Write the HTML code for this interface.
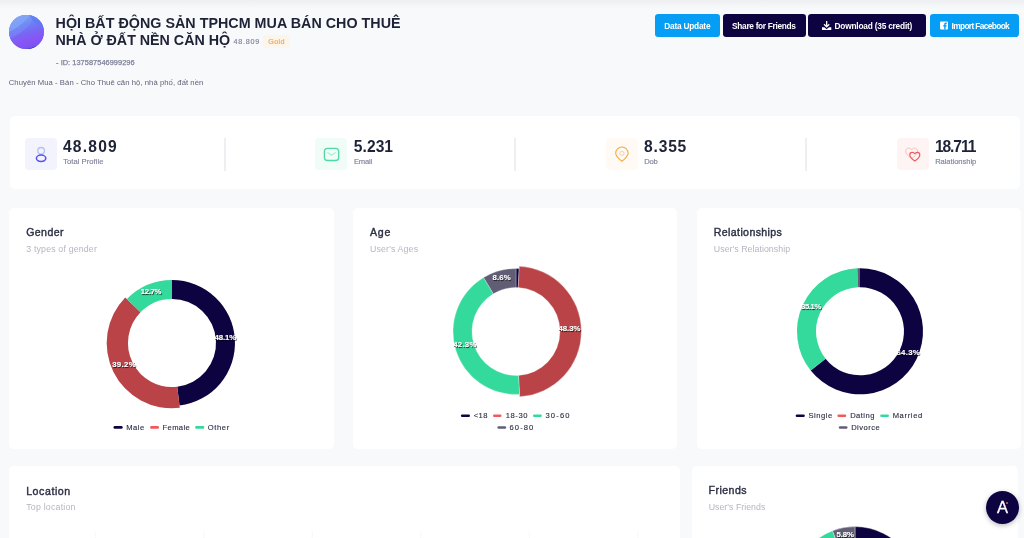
<!DOCTYPE html>
<html><head><meta charset="utf-8"><title>Group</title>
<style>
*{box-sizing:border-box;margin:0;padding:0}
html,body{width:1024px;height:538px;overflow:hidden;background:#f8f9fb;font-family:"Liberation Sans",sans-serif;color:#181c32}
.abs{position:absolute}
.card{position:absolute;background:#fff;border-radius:5px}
.t{position:absolute;white-space:pre}
.avatar{position:absolute;left:9.2px;top:14.5px;width:34.5px;height:34.6px;border-radius:50%;overflow:hidden;background:#6d7df4}
.gold{position:absolute;left:263.3px;top:35px;width:26.7px;height:13.4px;border-radius:3px;background:#fcf5ec}
.btn{position:absolute;top:14px;height:23.1px;border-radius:3.2px}
.lb{background:#069df5}
.nv{background:#0c0340}
.ibox{position:absolute;top:138.4px;width:32px;height:32px;border-radius:4px}
.sep{position:absolute;top:138.3px;width:1.8px;height:32.4px;background:#eeeff2}
.dl,.ds{font-size:7.8px;font-weight:700;fill:#fff;text-anchor:middle;font-family:"Liberation Sans",sans-serif}
.dl{stroke:#fff;stroke-width:.2px}
.ds{fill:#000;opacity:.5;stroke:#000;stroke-width:.5px}
svg.ov{position:absolute;left:0;top:0}
</style></head><body>
<div class="abs" style="left:0;top:0;width:1024px;height:9px;background:linear-gradient(rgba(20,20,40,.045),rgba(20,20,40,0))"></div>
<div class="avatar"><svg width="35" height="34" viewBox="0 0 35 34"><defs><linearGradient id="ag" x1="0.35" y1="0" x2="0.65" y2="1"><stop offset="0" stop-color="#78a2f6"/><stop offset=".3" stop-color="#6b80f5"/><stop offset=".55" stop-color="#7a64f4"/><stop offset=".8" stop-color="#8a52f6"/><stop offset="1" stop-color="#6f56f0"/></linearGradient></defs><rect width="35" height="34" fill="url(#ag)"/><path d="M0 17Q10 12 17 5L22 0H0Z" fill="#8fb4f7" opacity=".6"/><path d="M0 24Q14 18 22 8L24 0H0Z" fill="#7f9cf6" opacity=".35"/><path d="M20 0L24 6L35 14V0Z" fill="#5a78ee" opacity=".6"/><path d="M8 33Q17 36 27 31L27 35H8Z" fill="#24349a" opacity=".8"/></svg></div>
<div class="gold"></div>

<div class="btn lb" style="left:655px;width:65px"></div>
<div class="btn nv" style="left:722.9px;width:83.2px"></div>
<div class="btn nv" style="left:808.3px;width:118.2px"></div>
<div class="btn lb" style="left:930.2px;width:89.3px"></div>

<div class="card" style="left:10.2px;top:115.7px;width:1009.4px;height:73.3px"></div>
<div class="ibox" style="left:25.3px;background:#f3f3fe"></div>
<div class="sep" style="left:224px"></div>
<div class="ibox" style="left:315.4px;background:#f0fcf7"></div>
<div class="sep" style="left:514.3px"></div>
<div class="ibox" style="left:606.4px;background:#fffaf4"></div>
<div class="sep" style="left:805.1px"></div>
<div class="ibox" style="left:896.6px;background:#fff4f4"></div>

<div class="card" style="left:9.2px;top:208px;width:324.4px;height:240.5px"></div>
<div class="card" style="left:353px;top:208px;width:324.4px;height:240.5px"></div>
<div class="card" style="left:697px;top:208px;width:324px;height:240.5px"></div>
<div class="card" style="left:9.2px;top:466.2px;width:671.2px;height:90px"></div>
<div class="card" style="left:692px;top:466.2px;width:326px;height:90px"></div>

<svg class="ov" width="1024" height="538" viewBox="0 0 1024 538">
<!-- stat icons -->
<g fill="none" stroke-width="1.1" stroke-linecap="round" stroke-linejoin="round">
<circle cx="41.1" cy="150.8" r="3.3" stroke="#b4bff5" stroke-width="1.3"/>
<ellipse cx="41.1" cy="158.3" rx="4.7" ry="3.2" stroke="#5650f0" stroke-width="1.5"/>
<rect x="324.4" y="148.3" width="14.3" height="12.2" rx="3.2" stroke="#4fdaa4" stroke-width="1.35"/>
<path d="M327.800 152.600L331.500 155.200L335.300 152.600" stroke="#a5ecd0"/>
<path d="M621.900 161.300C618.500 158.600 615.700 156 615.700 153.200A6.200 6.200 0 0 1 628.100 153.200C628.100 156 625.300 158.600 621.900 161.300Z" stroke="#f5a845"/>
<circle cx="621.900" cy="153.300" r="2.1" stroke="#f9d9ad"/>
<path d="M911.600 158.400C908.500 156.300 905.700 154 905.700 151.300C905.700 149.300 907.200 148.100 908.700 148.100C910 148.100 911 148.800 911.600 149.800C912.200 148.800 913.200 148.100 914.500 148.100C916 148.100 917.500 149.300 917.500 151.300C917.500 154 914.700 156.300 911.600 158.400Z" stroke="#f4a6a8" stroke-width=".7"/>
<path d="M914.800 161C912.200 159.200 909.800 157.300 909.800 155C909.800 153.300 911.100 152.300 912.300 152.300C913.400 152.300 914.300 152.900 914.800 153.700C915.300 152.900 916.200 152.300 917.300 152.300C918.500 152.300 919.800 153.300 919.800 155C919.800 157.300 917.400 159.200 914.800 161Z" stroke="#f1595c" stroke-width="1.2"/>
</g>
<!-- button icons -->
<g fill="#fff">
<path d="M826 21h1.300v4.300l1.500-1.500l.9.900l-3.050 3.050l-3.050-3.050l.9-.9l1.500 1.500z"/>
<path d="M822 27.300h2.300l2.350 2.000l2.350-2.000h2.300v2.600h-9.300z"/>
<rect x="940" y="21.600" width="8" height="7.900" rx="1"/>
</g>
<path d="M945.600 29.500v-3h1l.2-1.300h-1.200v-.8c0-.4.200-.6.700-.6h.6v-1.100c-.2 0-.6-.1-1-.1c-1 0-1.700.6-1.700 1.700v.9h-1v1.300h1v3z" fill="#069df5"/>
<!-- donuts -->
<path d="M172.00 280.00A63 63 0 0 1 179.50 405.55L177.24 386.69A44 44 0 0 0 172.00 299.00Z" fill="#0c0340" stroke="#fff" stroke-width="0"/>
<path d="M179.78 407.84A65.3 65.3 0 0 1 125.25 297.41L140.50 312.28A44 44 0 0 0 177.24 386.69Z" fill="#b94346" stroke="#fff" stroke-width="0"/>
<path d="M126.90 299.02A63 63 0 0 1 172.00 280.00L172.00 299.00A44 44 0 0 0 140.50 312.28Z" fill="#34d99c" stroke="#fff" stroke-width="0"/>
<path d="M516.00 268.50A63 63 0 0 1 519.17 268.58L518.21 287.56A44 44 0 0 0 516.00 287.50Z" fill="#0c0340" stroke="#fff" stroke-width="0.3"/>
<path d="M519.28 266.28A65.3 65.3 0 0 1 519.69 396.70L518.49 375.43A44 44 0 0 0 518.21 287.56Z" fill="#b94346" stroke="#fff" stroke-width="0.3"/>
<path d="M519.56 394.40A63 63 0 0 1 483.59 277.48L493.36 293.77A44 44 0 0 0 518.49 375.43Z" fill="#34d99c" stroke="#fff" stroke-width="0.3"/>
<path d="M483.59 277.48A63 63 0 0 1 516.00 268.50L516.00 287.50A44 44 0 0 0 493.36 293.77Z" fill="#605d75" stroke="#fff" stroke-width="0.3"/>
<path d="M860.00 268.30A63 63 0 1 1 810.71 370.54L825.57 358.70A44 44 0 1 0 860.00 287.30Z" fill="#0c0340" stroke="#fff" stroke-width="0"/>
<path d="M810.71 370.54A63 63 0 0 1 810.66 370.47L825.54 358.66A44 44 0 0 0 825.57 358.70Z" fill="#f1595c" stroke="#fff" stroke-width="0"/>
<path d="M810.66 370.47A63 63 0 0 1 857.31 268.36L858.12 287.34A44 44 0 0 0 825.54 358.66Z" fill="#34d99c" stroke="#fff" stroke-width="0"/>
<path d="M857.31 268.36A63 63 0 0 1 860.00 268.30L860.00 287.30A44 44 0 0 0 858.12 287.34Z" fill="#605d75" stroke="#fff" stroke-width="0"/>
<path d="M855.00 526.60A63 63 0 1 1 817.97 640.57L829.14 625.20A44 44 0 1 0 855.00 545.60Z" fill="#0c0340" stroke="#fff" stroke-width="0.4"/>
<path d="M817.97 640.57A63 63 0 0 1 795.08 570.13L813.15 576.00A44 44 0 0 0 829.14 625.20Z" fill="#b94346" stroke="#fff" stroke-width="0.4"/>
<path d="M795.08 570.13A63 63 0 0 1 832.55 530.74L839.32 548.49A44 44 0 0 0 813.15 576.00Z" fill="#34d99c" stroke="#fff" stroke-width="0.4"/>
<path d="M832.55 530.74A63 63 0 0 1 855.00 526.60L855.00 545.60A44 44 0 0 0 839.32 548.49Z" fill="#605d75" stroke="#fff" stroke-width="0.4"/>

<rect x="113.5" y="426.10" width="9.2" height="2.6" rx="1.3" fill="#0c0340"/>
<rect x="150.1" y="426.10" width="8.9" height="2.6" rx="1.3" fill="#f1595c"/>
<rect x="195.2" y="426.10" width="9.1" height="2.6" rx="1.3" fill="#34d99c"/>
<rect x="460.9" y="414.50" width="9.1" height="2.6" rx="1.3" fill="#0c0340"/>
<rect x="493" y="414.50" width="8.5" height="2.6" rx="1.3" fill="#f1595c"/>
<rect x="533" y="414.50" width="8.8" height="2.6" rx="1.3" fill="#34d99c"/>
<rect x="497.4" y="426.20" width="8.8" height="2.6" rx="1.3" fill="#605d75"/>
<rect x="795.7" y="414.50" width="9.1" height="2.6" rx="1.3" fill="#0c0340"/>
<rect x="837.4" y="414.50" width="8.8" height="2.6" rx="1.3" fill="#f1595c"/>
<rect x="880.2" y="414.50" width="8.8" height="2.6" rx="1.3" fill="#34d99c"/>
<rect x="838.8" y="426.20" width="8.7" height="2.6" rx="1.3" fill="#605d75"/>
<path d="M95.3 531V538M203.8 531V538M312.3 531V538M420.8 531V538M529.3 531V538M637.8 531V538" stroke="#eceef3" stroke-width=".8" stroke-dasharray="1.5 1.5" fill="none"/>
</svg>

<div class="t" style="left:55.54px;top:14.10px;font-size:14.3px;line-height:18.59px;font-weight:700;color:#1e2236;letter-spacing:0.022px;">HỘI BẤT ĐỘNG SẢN TPHCM MUA BÁN CHO THUÊ</div>
<div class="t" style="left:55.54px;top:31.10px;font-size:14.3px;line-height:18.59px;font-weight:700;color:#1e2236;letter-spacing:-0.021px;">NHÀ Ở ĐẤT NỀN CĂN HỘ</div>
<div class="t" style="left:233.57px;top:37.10px;font-size:7.2px;line-height:9.36px;font-weight:400;color:#7e8299;letter-spacing:0.727px;-webkit-text-stroke:0.15px currentColor;">48.809</div>
<div class="t" style="left:268.37px;top:37.10px;font-size:7.2px;line-height:9.36px;font-weight:400;color:#f4a94e;letter-spacing:0.311px;-webkit-text-stroke:0.2px currentColor;">Gold</div>
<div class="t" style="left:56.06px;top:58.10px;font-size:7.4px;line-height:9.62px;font-weight:400;color:#7e8299;letter-spacing:0.043px;-webkit-text-stroke:0.25px currentColor;">- ID: 137587546999296</div>
<div class="t" style="left:8.74px;top:78.10px;font-size:7.7px;line-height:10.01px;font-weight:400;color:#5e6278;letter-spacing:0.055px;">Chuyên Mua - Bán - Cho Thuê căn hộ, nhà phố, đất nền</div>
<div class="t" style="left:664.30px;top:21.10px;font-size:8.3px;line-height:10.79px;font-weight:700;color:#fff;letter-spacing:-0.219px;">Data Update</div>
<div class="t" style="left:732.10px;top:21.10px;font-size:8.3px;line-height:10.79px;font-weight:700;color:#fff;letter-spacing:-0.305px;">Share for Friends</div>
<div class="t" style="left:834.50px;top:21.10px;font-size:8.3px;line-height:10.79px;font-weight:700;color:#fff;letter-spacing:-0.199px;">Download (35 credit)</div>
<div class="t" style="left:951.50px;top:21.10px;font-size:8.3px;line-height:10.79px;font-weight:700;color:#fff;letter-spacing:-0.616px;">Import Facebook</div>
<div class="t" style="left:62.96px;top:137.10px;font-size:15.6px;line-height:20.28px;font-weight:700;color:#1e2236;letter-spacing:1.211px;">48.809</div>
<div class="t" style="left:353.86px;top:137.10px;font-size:15.6px;line-height:20.28px;font-weight:700;color:#1e2236;letter-spacing:0.032px;">5.231</div>
<div class="t" style="left:644.06px;top:137.10px;font-size:15.6px;line-height:20.28px;font-weight:700;color:#1e2236;letter-spacing:0.807px;">8.355</div>
<div class="t" style="left:934.96px;top:137.10px;font-size:15.6px;line-height:20.28px;font-weight:700;color:#1e2236;letter-spacing:-1.097px;">18.711</div>
<div class="t" style="left:63.14px;top:157.10px;font-size:7.6px;line-height:9.88px;font-weight:400;color:#80839a;letter-spacing:0.056px;-webkit-text-stroke:0.15px currentColor;">Total Profile</div>
<div class="t" style="left:354.04px;top:157.10px;font-size:7.6px;line-height:9.88px;font-weight:400;color:#80839a;letter-spacing:-0.235px;-webkit-text-stroke:0.15px currentColor;">Email</div>
<div class="t" style="left:644.24px;top:157.10px;font-size:7.6px;line-height:9.88px;font-weight:400;color:#80839a;letter-spacing:-0.189px;-webkit-text-stroke:0.15px currentColor;">Dob</div>
<div class="t" style="left:935.14px;top:157.10px;font-size:7.6px;line-height:9.88px;font-weight:400;color:#80839a;letter-spacing:-0.058px;-webkit-text-stroke:0.15px currentColor;">Ralationship</div>
<div class="t" style="left:26.16px;top:226.10px;font-size:10.6px;line-height:13.78px;font-weight:400;color:#2d3044;letter-spacing:0.403px;-webkit-text-stroke:0.4px currentColor;">Gender</div>
<div class="t" style="left:369.96px;top:226.10px;font-size:10.6px;line-height:13.78px;font-weight:400;color:#2d3044;letter-spacing:0.750px;-webkit-text-stroke:0.4px currentColor;">Age</div>
<div class="t" style="left:713.76px;top:226.10px;font-size:10.6px;line-height:13.78px;font-weight:400;color:#2d3044;letter-spacing:0.379px;-webkit-text-stroke:0.4px currentColor;">Relationships</div>
<div class="t" style="left:26.16px;top:485.10px;font-size:10.6px;line-height:13.78px;font-weight:400;color:#2d3044;letter-spacing:0.571px;-webkit-text-stroke:0.4px currentColor;">Location</div>
<div class="t" style="left:708.56px;top:484.10px;font-size:10.6px;line-height:13.78px;font-weight:400;color:#2d3044;letter-spacing:0.455px;-webkit-text-stroke:0.4px currentColor;">Friends</div>
<div class="t" style="left:26.27px;top:244.10px;font-size:8.8px;line-height:11.44px;font-weight:400;color:#b5b5c3;letter-spacing:0.162px;">3 types of gender</div>
<div class="t" style="left:370.07px;top:244.10px;font-size:8.8px;line-height:11.44px;font-weight:400;color:#b5b5c3;letter-spacing:0.131px;">User's Ages</div>
<div class="t" style="left:713.87px;top:244.10px;font-size:8.8px;line-height:11.44px;font-weight:400;color:#b5b5c3;letter-spacing:0.037px;">User's Relationship</div>
<div class="t" style="left:26.27px;top:502.10px;font-size:8.8px;line-height:11.44px;font-weight:400;color:#b5b5c3;letter-spacing:0.202px;">Top location</div>
<div class="t" style="left:708.67px;top:502.10px;font-size:8.8px;line-height:11.44px;font-weight:400;color:#b5b5c3;letter-spacing:0.019px;">User's Friends</div>
<div class="t" style="left:126.34px;top:423.10px;font-size:7.6px;line-height:9.88px;font-weight:400;color:#2b2e42;letter-spacing:0.464px;-webkit-text-stroke:0.12px currentColor;">Male</div>
<div class="t" style="left:162.54px;top:423.10px;font-size:7.6px;line-height:9.88px;font-weight:400;color:#2b2e42;letter-spacing:0.366px;-webkit-text-stroke:0.12px currentColor;">Female</div>
<div class="t" style="left:207.64px;top:423.10px;font-size:7.6px;line-height:9.88px;font-weight:400;color:#2b2e42;letter-spacing:0.640px;-webkit-text-stroke:0.12px currentColor;">Other</div>
<div class="t" style="left:473.64px;top:411.10px;font-size:7.6px;line-height:9.88px;font-weight:400;color:#2b2e42;letter-spacing:0.485px;-webkit-text-stroke:0.12px currentColor;">&lt;18</div>
<div class="t" style="left:505.74px;top:411.10px;font-size:7.6px;line-height:9.88px;font-weight:400;color:#2b2e42;letter-spacing:0.581px;-webkit-text-stroke:0.12px currentColor;">18-30</div>
<div class="t" style="left:545.44px;top:411.10px;font-size:7.6px;line-height:9.88px;font-weight:400;color:#2b2e42;letter-spacing:1.156px;-webkit-text-stroke:0.12px currentColor;">30-60</div>
<div class="t" style="left:509.54px;top:423.10px;font-size:7.6px;line-height:9.88px;font-weight:400;color:#2b2e42;letter-spacing:1.081px;-webkit-text-stroke:0.12px currentColor;">60-80</div>
<div class="t" style="left:808.44px;top:411.10px;font-size:7.6px;line-height:9.88px;font-weight:400;color:#2b2e42;letter-spacing:0.530px;-webkit-text-stroke:0.12px currentColor;">Single</div>
<div class="t" style="left:850.14px;top:411.10px;font-size:7.6px;line-height:9.88px;font-weight:400;color:#2b2e42;letter-spacing:0.461px;-webkit-text-stroke:0.12px currentColor;">Dating</div>
<div class="t" style="left:892.64px;top:411.10px;font-size:7.6px;line-height:9.88px;font-weight:400;color:#2b2e42;letter-spacing:0.652px;-webkit-text-stroke:0.12px currentColor;">Married</div>
<div class="t" style="left:851.14px;top:423.10px;font-size:7.6px;line-height:9.88px;font-weight:400;color:#2b2e42;letter-spacing:0.485px;-webkit-text-stroke:0.12px currentColor;">Divorce</div>
<div class="t" style="left:214.54px;top:333.10px;font-size:7.8px;line-height:10.14px;font-weight:700;color:#fff;letter-spacing:-0.132px;text-shadow:.75px .75px .7px rgba(0,0,0,.75);-webkit-text-stroke:.15px #fff;">48.1%</div>
<div class="t" style="left:112.16px;top:360.10px;font-size:7.8px;line-height:10.14px;font-weight:700;color:#fff;letter-spacing:0.368px;text-shadow:.75px .75px .7px rgba(0,0,0,.75);-webkit-text-stroke:.15px #fff;">39.2%</div>
<div class="t" style="left:140.80px;top:287.10px;font-size:7.8px;line-height:10.14px;font-weight:700;color:#fff;letter-spacing:-0.357px;text-shadow:.75px .75px .7px rgba(0,0,0,.75);-webkit-text-stroke:.15px #fff;">12.7%</div>
<div class="t" style="left:558.43px;top:324.10px;font-size:7.8px;line-height:10.14px;font-weight:700;color:#fff;letter-spacing:-0.032px;text-shadow:.75px .75px .7px rgba(0,0,0,.75);-webkit-text-stroke:.15px #fff;">48.3%</div>
<div class="t" style="left:453.15px;top:340.10px;font-size:7.8px;line-height:10.14px;font-weight:700;color:#fff;letter-spacing:0.293px;text-shadow:.75px .75px .7px rgba(0,0,0,.75);-webkit-text-stroke:.15px #fff;">42.3%</div>
<div class="t" style="left:492.50px;top:273.10px;font-size:7.8px;line-height:10.14px;font-weight:700;color:#fff;letter-spacing:0.166px;text-shadow:.75px .75px .7px rgba(0,0,0,.75);-webkit-text-stroke:.15px #fff;">8.6%</div>
<div class="t" style="left:896.42px;top:348.10px;font-size:7.8px;line-height:10.14px;font-weight:700;color:#fff;letter-spacing:0.318px;text-shadow:.75px .75px .7px rgba(0,0,0,.75);-webkit-text-stroke:.15px #fff;">64.3%</div>
<div class="t" style="left:801.07px;top:302.10px;font-size:7.8px;line-height:10.14px;font-weight:700;color:#fff;letter-spacing:-0.432px;text-shadow:.75px .75px .7px rgba(0,0,0,.75);-webkit-text-stroke:.15px #fff;">35.1%</div>
<div class="t" style="left:836.44px;top:530.10px;font-size:7.8px;line-height:10.14px;font-weight:700;color:#fff;letter-spacing:-0.067px;text-shadow:.75px .75px .7px rgba(0,0,0,.75);-webkit-text-stroke:.15px #fff;">5.8%</div>

<div class="abs" style="left:985.900px;top:491px;width:33px;height:33px;border-radius:50%;background:#0c0340;box-shadow:0 1.500px 5px rgba(0,0,0,.28)"></div>
<div class="abs" style="left:985.900px;top:491px;width:33px;height:33px;color:#fff;font-size:16.500px;font-weight:400;-webkit-text-stroke:.3px #fff;text-align:center;line-height:33px">A</div>
<div class="abs" style="left:1005.600px;top:502px;width:2.400px;height:2.400px;border-radius:50%;background:#f1595c"></div>
</body></html>
